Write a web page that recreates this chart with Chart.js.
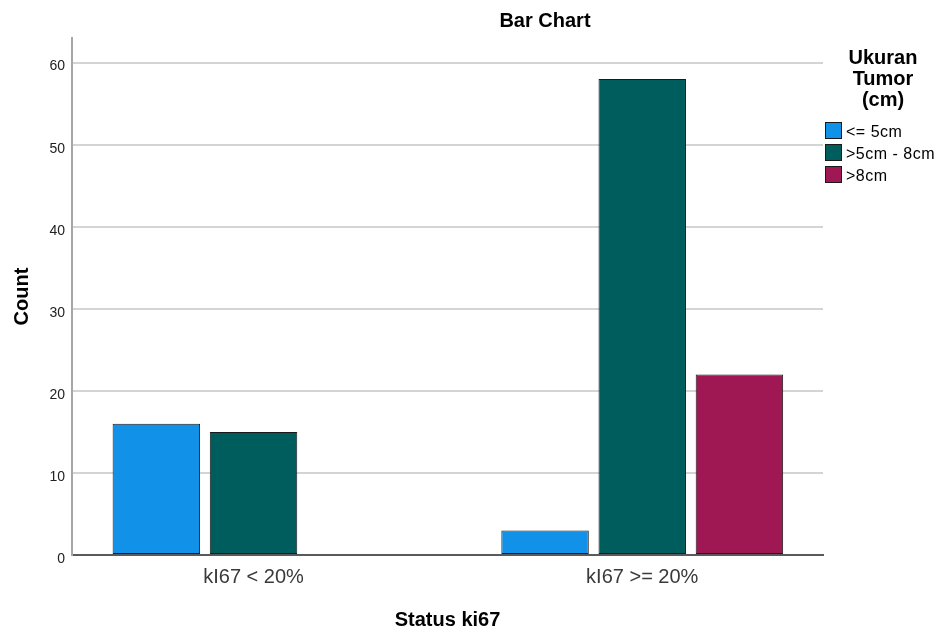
<!DOCTYPE html>
<html>
<head>
<meta charset="utf-8">
<title>Bar Chart</title>
<script src="https://cdn.jsdelivr.net/npm/chart.js@4.4.0/dist/chart.umd.min.js"></script>
<style>
    body { margin: 0; background: #fff; font-family: "Liberation Sans", Arial, sans-serif; }
    #wrap { position: relative; width: 941px; height: 630px; }
    #chartTitle {
        position: absolute; top: 8px; left: 545px; transform: translateX(-50%);
        font-weight: bold; font-size: 20px; line-height: 24px; white-space: nowrap; color: #000;
    }
    #legend { position: absolute; left: 825px; top: 47px; width: 116px; color: #000; }
    #legend .legend-title { text-align: center; font-weight: bold; font-size: 20px; line-height: 21px; margin-bottom: 9px; }
    #legend .legend-item { display: flex; align-items: center; height: 22px; white-space: nowrap; }
    #legend .swatch { width: 15px; height: 15px; border: 1px solid #1a1a1a; margin-right: 4px; flex: none; }
    #legend .label { font-size: 16px; letter-spacing: 0.5px; line-height: 22px; position: relative; top: 2px; }
</style>
</head>
<body>
<div id="wrap">
    <canvas id="barChart" width="941" height="630"></canvas>
    <div id="chartTitle">Bar Chart</div>
    <div id="legend"></div>
</div>
<script>
// Chart data
const categories = ['kI67 < 20%', 'kI67 >= 20%'];
const seriesNames = ['<= 5cm', '>5cm - 8cm', '>8cm'];
const countSmall = [16, 3];
const countMedium = [15, 58];
const countLarge = [null, 22];
const yTicks = [0, 10, 20, 30, 40, 50, 60];
const yMax = 63;
const seriesColors = ['#1192e8', '#005d5d', '#9f1853'];

document.addEventListener('DOMContentLoaded', function() {
    buildLegend();
    initChart();
});

function buildLegend() {
    const legend = document.getElementById('legend');
    let html = '<div class="legend-title">Ukuran<br>Tumor<br>(cm)</div>';
    seriesNames.forEach((name, i) => {
        html += `<div class="legend-item"><span class="swatch" style="background:${seriesColors[i]}"></span><span class="label">${name.replace(/</g, '&lt;').replace(/>/g, '&gt;')}</span></div>`;
    });
    legend.innerHTML = html;
}

function toPoints(values) {
    return values.map((v, i) => ({ x: i, y: v }));
}

function initChart() {
    Chart.defaults.font.family = '"Liberation Sans", Arial, sans-serif';
    const seriesValues = [countSmall, countMedium, countLarge];

    new Chart(document.getElementById('barChart'), {
        type: 'bar',
        data: {
            datasets: seriesNames.map((name, i) => ({
                label: name,
                data: toPoints(seriesValues[i]),
                backgroundColor: seriesColors[i],
                borderColor: '#1a1a1a',
                borderWidth: 1,
                borderSkipped: false,
                categoryPercentage: 0.75,
                barPercentage: 0.9
            }))
        },
        options: {
            responsive: false,
            animation: false,
            layout: { padding: { top: 38, right: 118, bottom: 0, left: 0 } },
            plugins: {
                legend: { display: false },
                title: { display: false },
                tooltip: { enabled: false }
            },
            scales: {
                x: {
                    type: 'linear',
                    min: -0.467,
                    max: categories.length - 1 + 0.465,
                    offset: false,
                    grid: { display: false, drawTicks: false },
                    border: { display: true, color: '#5a5a5a', width: 2 },
                    afterBuildTicks: function(scale) {
                        scale.ticks = categories.map((c, i) => ({ value: i }));
                    },
                    afterFit: function(scale) { scale.height = 75; },
                    ticks: {
                        padding: 10,
                        color: '#3a3a3a',
                        font: { size: 20 },
                        maxRotation: 0,
                        callback: function(value) { return categories[value]; }
                    },
                    title: {
                        display: true,
                        text: 'Status ki67',
                        color: '#000',
                        font: { size: 20, weight: 'bold', lineHeight: 1 },
                        padding: { top: 0, bottom: 0 }
                    }
                },
                y: {
                    min: 0,
                    max: yMax,
                    grid: {
                        drawTicks: false,
                        lineWidth: 2,
                        color: ctx => (ctx.tick && ctx.tick.value === 0) ? 'rgba(0,0,0,0)' : '#d4d4d4'
                    },
                    border: { display: true, color: '#a6a6a6', width: 2 },
                    afterBuildTicks: function(scale) {
                        scale.ticks = yTicks.map(v => ({ value: v }));
                    },
                    afterFit: function(scale) { scale.width = 72; },
                    ticks: {
                        padding: 7,
                        color: '#222',
                        font: { size: 14, lineHeight: '8px' },
                        callback: function(value) { return ['', String(value)]; }
                    },
                    title: {
                        display: true,
                        text: 'Count',
                        color: '#000',
                        font: { size: 20, weight: 'bold', lineHeight: 1 },
                        padding: { top: 12, bottom: 0 }
                    }
                }
            }
        }
    });
}
</script>
</body>
</html>
